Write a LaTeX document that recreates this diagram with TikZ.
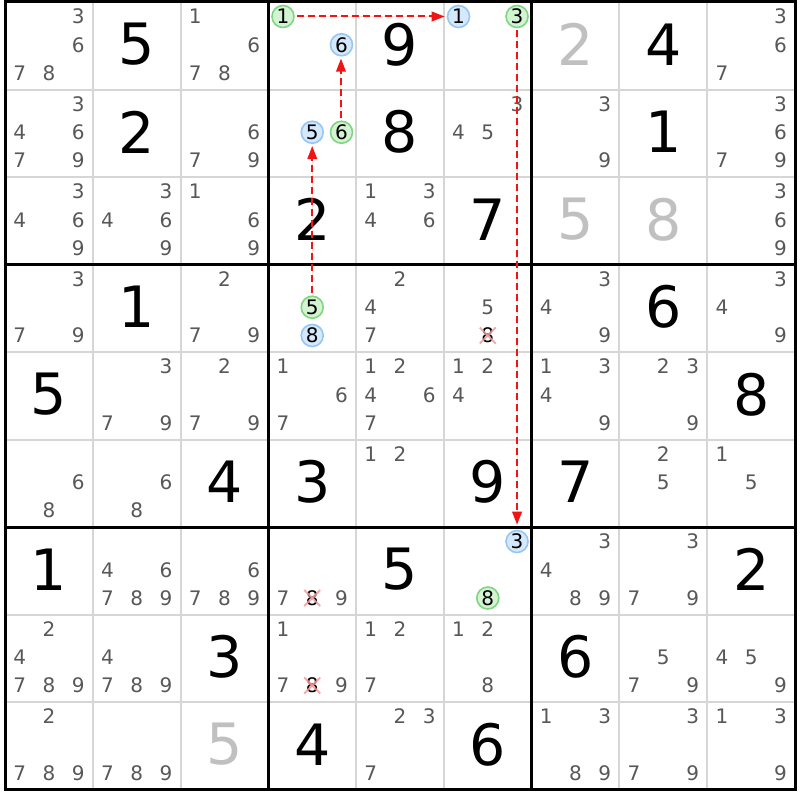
\documentclass[tikz,border=0pt]{standalone}
\usepackage{fontspec}
\setmainfont{DejaVu Sans}
\usetikzlibrary{arrows.meta}
\definecolor{candgray}{HTML}{585858}
\definecolor{solvedgray}{HTML}{C0C0C0}
\definecolor{thingrid}{HTML}{D6D6D6}
\definecolor{grnfill}{HTML}{D3F3D3}
\definecolor{grndraw}{HTML}{80D680}
\definecolor{blufill}{HTML}{D5E8FC}
\definecolor{bludraw}{HTML}{96C6F4}
\definecolor{linkred}{HTML}{F01414}
\definecolor{xred}{HTML}{F59A9A}
\tikzset{
 cand/.style={font=\fontsize{20}{20}\selectfont, text=candgray, inner sep=0pt},
 xcand/.style={cand, text=black},
 given/.style={font=\fontsize{57}{57}\selectfont, text=black, inner sep=0pt},
 solved/.style={given, text=solvedgray},
 onchain/.style={circle, inner sep=0pt, minimum size=22pt, line width=1.6pt, font=\fontsize{20}{20}\selectfont, text=black},
 grnc/.style={onchain, draw=grndraw, fill=grnfill},
 bluc/.style={onchain, draw=bludraw, fill=blufill},
 thinline/.style={draw=thingrid, line width=2pt},
 boxline/.style={draw=black, line width=3pt},
 xline/.style={draw=xred, line width=2pt, opacity=0.85},
 link/.style={draw=linkred, fill=linkred, line width=2pt, dash pattern=on 7pt off 4pt,
   -{Triangle[length=13pt,width=9.5pt]}, shorten <=2pt, shorten >=2pt}
}
\newcommand\spot[4]{%
  \pgfmathtruncatemacro\cx{mod(#3-1,3)}%
  \pgfmathtruncatemacro\cy{int((#3-1)/3)}%
  \pgfmathsetmacro\px{5+#2*87.78+(\cx+0.5)*29.26}%
  \pgfmathsetmacro\py{2+#1*87.5+14.5+\cy*28.25}%
  \node[#4] (k#1#2#3) at (\px,\py) {#3};}
\newcommand\cands[3]{\foreach \d in {#3}{\spot{#1}{#2}{\d}{cand}}}
\newcommand\givenat[4]{%
  \pgfmathsetmacro\px{5+#2*87.78+43.89}%
  \pgfmathsetmacro\py{2+#1*87.5+42.5}%
  \node[#4] (g#1#2) at (\px,\py) {#3};}
\newcommand\crossmark[1]{%
  \draw[xline] ([shift={(-8,-8)}]#1.center) -- ([shift={(8,8)}]#1.center);
  \draw[xline] ([shift={(-8,8)}]#1.center) -- ([shift={(8,-8)}]#1.center);}
\begin{document}
\begin{tikzpicture}[x=1pt,y=-1pt]
\useasboundingbox (0,0) rectangle (800,800);
\fill[white] (0,0) rectangle (800,800);
% thin grid
\foreach \i in {1,2,4,5,7,8}{
  \draw[thinline] (5+\i*87.78,2) -- (5+\i*87.78,789.5);
  \draw[thinline] (5,2+\i*87.5) -- (795.02,2+\i*87.5);
}
% box lines
\foreach \i in {3,6}{
  \draw[boxline] (5+\i*87.78,2) -- (5+\i*87.78,789.5);
  \draw[boxline] (5,2+\i*87.5) -- (795.02,2+\i*87.5);
}
\draw[boxline] (5,2) rectangle (795.02,789.5);
% row 0
\cands{0}{0}{3,6,7,8} \givenat{0}{1}{5}{given} \cands{0}{2}{1,6,7,8}
\spot{0}{3}{1}{grnc} \spot{0}{3}{6}{bluc} \givenat{0}{4}{9}{given}
\spot{0}{5}{1}{bluc} \spot{0}{5}{3}{grnc} \givenat{0}{6}{2}{solved}
\givenat{0}{7}{4}{given} \cands{0}{8}{3,6,7}
% row 1
\cands{1}{0}{3,4,6,7,9} \givenat{1}{1}{2}{given} \cands{1}{2}{6,7,9}
\spot{1}{3}{5}{bluc} \spot{1}{3}{6}{grnc} \givenat{1}{4}{8}{given}
\cands{1}{5}{3,4,5} \cands{1}{6}{3,9} \givenat{1}{7}{1}{given} \cands{1}{8}{3,6,7,9}
% row 2
\cands{2}{0}{3,4,6,9} \cands{2}{1}{3,4,6,9} \cands{2}{2}{1,6,9}
\givenat{2}{3}{2}{given} \cands{2}{4}{1,3,4,6} \givenat{2}{5}{7}{given}
\givenat{2}{6}{5}{solved} \givenat{2}{7}{8}{solved} \cands{2}{8}{3,6,9}
% row 3
\cands{3}{0}{3,7,9} \givenat{3}{1}{1}{given} \cands{3}{2}{2,7,9}
\spot{3}{3}{5}{grnc} \spot{3}{3}{8}{bluc} \cands{3}{4}{2,4,7}
\cands{3}{5}{5} \spot{3}{5}{8}{xcand} \cands{3}{6}{3,4,9}
\givenat{3}{7}{6}{given} \cands{3}{8}{3,4,9}
% row 4
\givenat{4}{0}{5}{given} \cands{4}{1}{3,7,9} \cands{4}{2}{2,7,9}
\cands{4}{3}{1,6,7} \cands{4}{4}{1,2,4,6,7} \cands{4}{5}{1,2,4}
\cands{4}{6}{1,3,4,9} \cands{4}{7}{2,3,9} \givenat{4}{8}{8}{given}
% row 5
\cands{5}{0}{6,8} \cands{5}{1}{6,8} \givenat{5}{2}{4}{given}
\givenat{5}{3}{3}{given} \cands{5}{4}{1,2} \givenat{5}{5}{9}{given}
\givenat{5}{6}{7}{given} \cands{5}{7}{2,5} \cands{5}{8}{1,5}
% row 6
\givenat{6}{0}{1}{given} \cands{6}{1}{4,6,7,8,9} \cands{6}{2}{6,7,8,9}
\cands{6}{3}{7,9} \spot{6}{3}{8}{xcand} \givenat{6}{4}{5}{given}
\spot{6}{5}{3}{bluc} \spot{6}{5}{8}{grnc} \cands{6}{6}{3,4,8,9}
\cands{6}{7}{3,7,9} \givenat{6}{8}{2}{given}
% row 7
\cands{7}{0}{2,4,7,8,9} \cands{7}{1}{4,7,8,9} \givenat{7}{2}{3}{given}
\cands{7}{3}{1,7,9} \spot{7}{3}{8}{xcand} \cands{7}{4}{1,2,7}
\cands{7}{5}{1,2,8} \givenat{7}{6}{6}{given} \cands{7}{7}{5,7,9} \cands{7}{8}{4,5,9}
% row 8
\cands{8}{0}{2,7,8,9} \cands{8}{1}{7,8,9} \givenat{8}{2}{5}{solved}
\givenat{8}{3}{4}{given} \cands{8}{4}{2,3,7} \givenat{8}{5}{6}{given}
\cands{8}{6}{1,3,8,9} \cands{8}{7}{3,7,9} \cands{8}{8}{1,3,9}
% eliminations
\crossmark{k358} \crossmark{k638} \crossmark{k738}
% chain links
\draw[link] (k031) -- (k051);
\draw[link, shorten >=5pt] (k053) -- (k653);
\draw[link] ([xshift=-0.5pt]k136.north) -- ([xshift=-0.5pt]k036.south);
\draw[link] (k335) -- (k135);
\end{tikzpicture}
\end{document}
